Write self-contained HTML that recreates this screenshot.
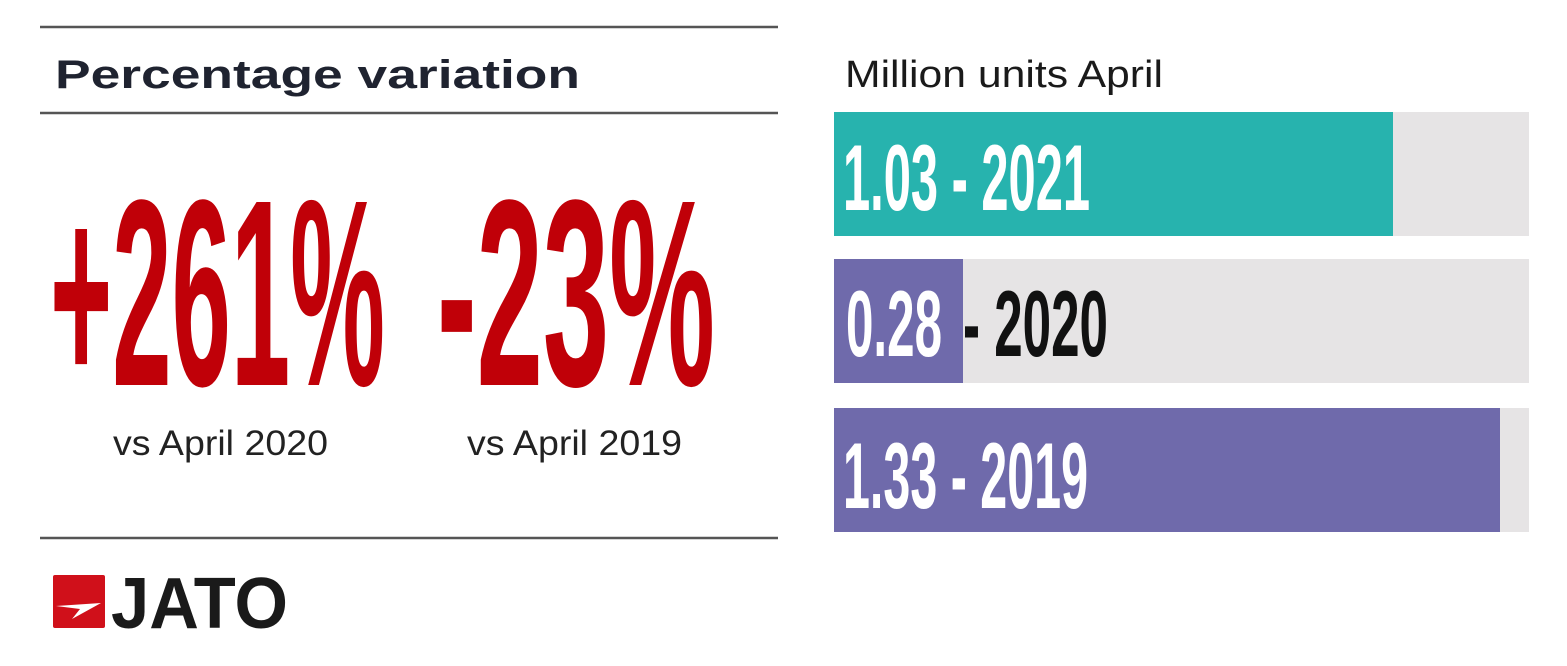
<!DOCTYPE html>
<html><head><meta charset="utf-8"><style>
body{margin:0;background:#fff;}
svg{display:block}
</style></head><body>
<svg width="1567" height="666" viewBox="0 0 1567 666" xmlns="http://www.w3.org/2000/svg" font-family="Liberation Sans, sans-serif">
<rect width="1567" height="666" fill="#fff"/>
<g stroke="#555" stroke-width="2.5">
<line x1="40" y1="27" x2="778" y2="27"/>
<line x1="40" y1="113" x2="778" y2="113"/>
<line x1="40" y1="538" x2="778" y2="538"/>
</g>
<text x="55" y="88" font-size="40" font-weight="bold" fill="#1f2330" textLength="525" lengthAdjust="spacingAndGlyphs">Percentage variation</text>
<text x="50" y="385" font-size="266" font-weight="bold" fill="#c00008" textLength="335" lengthAdjust="spacingAndGlyphs">+261%</text>
<text x="437" y="385" font-size="266" font-weight="bold" fill="#c00008" textLength="278" lengthAdjust="spacingAndGlyphs">-23%</text>
<text x="113" y="455" font-size="35" fill="#222" textLength="215" lengthAdjust="spacingAndGlyphs">vs April 2020</text>
<text x="467" y="455" font-size="35" fill="#222" textLength="215" lengthAdjust="spacingAndGlyphs">vs April 2019</text>
<rect x="53" y="575" width="52" height="53" rx="2" fill="#d0101a"/>
<polygon points="56,606 101,603 72,619 80,609" fill="#fff"/>
<text x="111" y="628" font-size="72" font-weight="bold" fill="#1a1a1a" textLength="177" lengthAdjust="spacingAndGlyphs">JATO</text>
<text x="845" y="87" font-size="38" fill="#1a1a1a" textLength="318" lengthAdjust="spacingAndGlyphs">Million units April</text>
<rect x="834" y="112" width="695" height="124" fill="#e6e4e5"/>
<rect x="834" y="112" width="559" height="124" fill="#27b3ae"/>
<rect x="834" y="259" width="695" height="124" fill="#e6e4e5"/>
<rect x="834" y="259" width="129" height="124" fill="#6f6aab"/>
<rect x="834" y="408" width="695" height="124" fill="#e6e4e5"/>
<rect x="834" y="408" width="666" height="124" fill="#6f6aab"/>
<text x="843" y="210" font-size="94" font-weight="bold" fill="#fff" textLength="247" lengthAdjust="spacingAndGlyphs">1.03 - 2021</text>
<text x="846" y="356" font-size="94" font-weight="bold" fill="#fff" textLength="96" lengthAdjust="spacingAndGlyphs">0.28</text>
<text x="963" y="356" font-size="94" font-weight="bold" fill="#111" textLength="145" lengthAdjust="spacingAndGlyphs">- 2020</text>
<text x="843" y="508" font-size="94" font-weight="bold" fill="#fff" textLength="245" lengthAdjust="spacingAndGlyphs">1.33 - 2019</text>
</svg>
</body></html>
